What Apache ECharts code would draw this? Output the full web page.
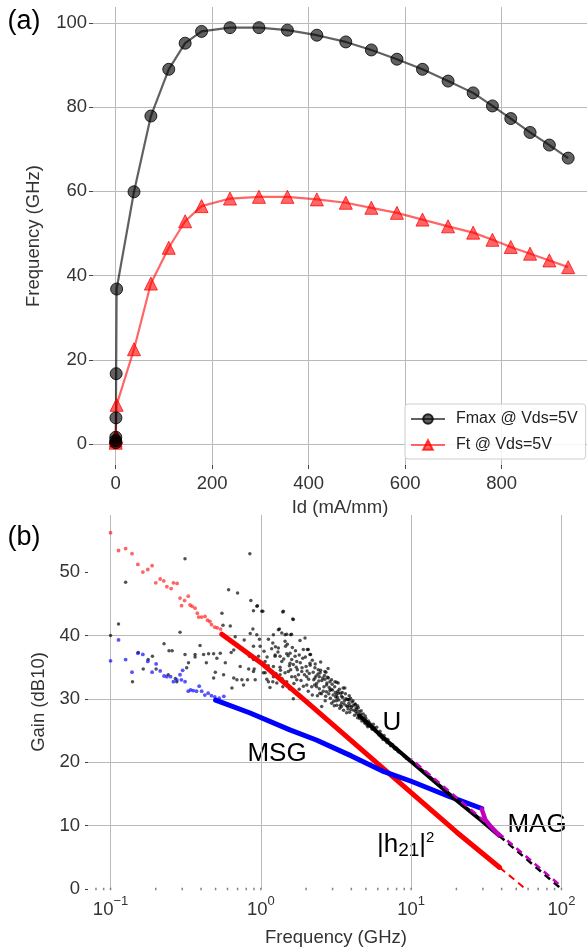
<!DOCTYPE html>
<html><head><meta charset="utf-8">
<script src="https://cdn.jsdelivr.net/npm/echarts@6/dist/echarts.min.js"></script>
<style>html,body{margin:0;padding:0;background:#fff}#c{width:587px;height:951px}</style>
</head><body><div id="c"></div>
<script>
// ---------- Panel (a) ----------
const idValues   = [0, 0.05, 0.2, 0.5, 1, 2, 38, 73, 110, 144, 178, 237, 297, 356, 417, 477, 530, 583, 636, 689, 741, 781, 819, 859, 899, 938];
const fmaxValues = [0.3, 0.8, 1.6, 6.2, 16.7, 36.8, 59.9, 77.9, 89.0, 95.2, 98.0, 98.9, 98.9, 98.3, 97.1, 95.5, 93.6, 91.4, 89.0, 86.2, 83.4, 80.3, 77.3, 74.0, 71.0, 67.9];
const ftValues   = [0.3, 0.8, 1.5, 1.7, 1.8, 9.3, 22.5, 38.1, 46.6, 52.9, 56.5, 58.3, 58.7, 58.7, 58.1, 57.3, 56.1, 54.9, 53.3, 51.7, 50.2, 48.5, 46.8, 45.2, 43.6, 42.0];
const idTicks = [0, 200, 400, 600, 800];
const freqTicks = [0, 20, 40, 60, 80, 100];

// ---------- Panel (b) ----------
const h21Scatter = [[0.1,56.2],[0.113,53.4],[0.126,53.7],[0.139,52.9],[0.152,51.2],[0.164,50.0],[0.177,50.4],[0.189,51.0],[0.2,48.3],[0.214,48.9],[0.226,48.6],[0.237,47.7],[0.253,47.4],[0.262,48.3],[0.277,48.2],[0.29,45.9],[0.311,45.5],[0.329,46.2],[0.297,44.7],[0.338,44.8],[0.349,44.6],[0.365,44.3],[0.378,43.5],[0.386,42.9],[0.404,42.9],[0.425,43.0],[0.442,42.4],[0.458,42.2],[0.47,41.7],[0.494,41.3],[0.513,41.2],[0.54,41.0]];
const h21Line = [[0.55,40.2],[1,35.7],[2,29.6],[5,21.4],[10,15.2],[20,9.0],[38.8,3.4]];
const h21Dash = [[38.8,3.4],[57.7,0]];
const msgScatter = [[0.1,36.0],[0.113,39.3],[0.126,36.2],[0.139,34.2],[0.152,37.2],[0.164,37.0],[0.177,35.9],[0.189,34.2],[0.201,35.5],[0.214,34.4],[0.227,33.6],[0.237,33.5],[0.251,33.5],[0.262,32.7],[0.276,33.0],[0.29,33.8],[0.302,34.5],[0.296,33.0],[0.313,32.7],[0.329,31.2],[0.341,31.4],[0.355,31.3],[0.373,31.2],[0.389,32.0],[0.404,31.2],[0.424,30.6],[0.446,30.9],[0.469,30.5],[0.494,30.3],[0.528,30.1],[0.567,30.4]];
const msgLine = [[0.5,29.8],[0.84,27.8],[1.56,25.1],[2.34,23.5],[4.0,21.0],[6.6,18.5],[10,17.0],[17.9,14.6],[29.5,12.7]];
const uScatter = [[0.1,40.0],[0.113,41.8],[0.126,48.4],[0.14,32.7],[0.153,37.3],[0.165,34.7],[0.178,36.2],[0.19,36.7],[0.201,34.7],[0.227,38.7],[0.242,33.8],[0.245,37.6],[0.257,37.6],[0.276,32.7],[0.27,33.2],[0.29,40.5],[0.313,52.1],[0.321,34.9],[0.33,35.7],[0.365,36.6],[0.394,38.4],[0.416,37.0],[0.434,35.7],[0.449,37.1],[0.485,37.1],[0.498,34.2],[0.51,36.4],[0.551,43.5],[0.61,47.2],[0.7,46.7],[0.626,41.5],[0.675,39.8],[0.58,35.7],[0.565,33.8],[0.642,31.7],[0.693,33.0],[0.729,35.1],[0.775,39.3],[0.845,52.9],[0.858,45.5],[0.941,44.6],[1.015,43.8],[0.885,41.0],[0.979,39.4],[0.84,36.7],[0.903,34.7],[0.815,33.0],[0.767,32.2],[1.068,34.1],[1.096,33.1],[1.201,32.7],[1.399,43.7],[1.63,42.6],[1.329,41.0],[1.449,40.1],[1.581,40.1],[1.244,36.9],[1.342,36.7],[1.487,37.1],[1.605,36.2],[1.689,36.7],[1.212,35.1],[1.342,35.0],[1.548,35.2],[1.644,35.4],[1.212,33.5],[1.449,34.1],[1.605,33.5],[1.733,33.0],[1.487,32.7],
[0.313,37.0],[0.365,37.0],[0.537,37.2],[0.635,37.3],[0.66,37.7],[0.485,33.3],[0.66,33.3],[0.748,33.0],[0.83,34.7],[0.893,38.3],[0.56,41.6],[0.893,43.9],[0.94,40.1],[0.85,40.3],
[0.949,44.7],[1.031,43.8],[1.412,43.8],[1.123,39.4],[1.212,40.1],[1.308,40.9],[1.378,40.4],[1.487,40.2],[1.201,38.8],[1.449,39.1],[1.822,39.2],[1.967,39.6],[0.989,38.3],[1.308,38.0],[1.564,37.2],[1.917,37.8],[2.068,37.8],[2.122,37.0],[0.893,36.2],[0.964,36.7],[1.068,35.9],[1.244,36.7],[1.378,35.9],[1.564,35.6],[1.733,35.9],[2.122,35.6],[2.41,34.6],[0.893,34.3],[1.04,34.1],[1.183,34.3],[1.342,33.8],[1.524,34.3],[1.689,33.5],[1.872,34.3],[2.02,33.5],[2.29,33.3],[2.67,34.3],[2.81,33.3],[0.917,33.0],[1.123,32.7],[1.277,32.5],[1.644,30.0],[2.02,32.2],[2.35,31.9],[2.74,32.2],[3.11,32.7],[3.27,32.5],[3.62,31.7],[2.068,31.2],[2.47,30.9],[2.88,31.3],[3.19,30.6],[3.44,30.4],[3.81,29.9],[2.54,28.8],[2.96,29.3],[3.44,28.8],[3.9,28.9],[4.33,28.3],[3.72,27.8],[4.56,27.2],
[1.645,42.5],[1.6,40.2],[2.04,37.8],[2.14,37.0],[2.29,34.9],[2.5,34.5],[2.71,34.2],[2.45,33.5],[2.67,33.1],[2.88,32.7],[3.19,32.6],[3.53,31.7],[3.27,30.9],[3.87,30.5],[4.22,29.1],
[1.9,36.4],[2.0,35.1],[2.1,34.0],[2.2,36.1],[2.25,33.0],[2.3,35.5],[2.35,32.4],[2.4,33.9],[2.45,31.6],[2.5,35.8],[2.55,32.9],[2.6,31.2],[2.65,33.7],[2.7,30.4],[2.75,32.5],[2.8,34.8],[2.85,31.8],[2.9,30.1],[2.95,33.0],[3.0,31.4],[3.05,29.6],[3.1,31.9],[3.15,30.3],[3.2,29.0],[3.25,31.2],[3.3,29.8],[3.35,28.5],[3.4,30.9],[3.45,29.4],[3.5,30.2],[3.55,28.2],[3.6,29.7],[3.65,30.8],[3.7,28.9],[3.75,29.9],[3.8,28.4],[3.85,29.3],[3.9,27.9],[3.95,30.1],[4.0,28.7],[4.05,29.5],[4.15,28.2],[4.25,29.2],[4.35,27.7],[4.45,28.6],[4.55,26.9],[4.65,28.1],[4.75,27.0],[4.85,26.6],[4.95,27.3],[5.05,26.4],[5.15,25.6],[5.3,26.2],[5.45,25.6],[5.7,25.4],[6.0,24.6],[6.3,24.4],[6.5,23.6],[6.9,23.1],[7.3,22.6],[7.8,22.1],[8.2,21.7],
[1.25,38.2],[1.35,34.5],[1.5,38.6],[1.7,37.6],[1.75,34.6],[1.8,36.9],[1.85,32.9],[1.95,33.8],[1.1,36.6],[1.15,31.8],[1.4,31.9],[1.55,31.6],[1.8,31.5],[2.2,30.6],
[1.05,37.5],[1.12,35.2],[1.18,37.9],[1.26,34.0],[1.3,37.4],[1.38,33.2],[1.42,36.3],[1.46,38.3],[1.52,36.8],[1.58,34.6],[1.62,38.1],[1.66,32.4],[1.72,35.0],[1.78,33.8],[1.83,35.7],[1.88,34.9],[1.92,32.0],[1.98,36.6],[2.03,34.4],[2.08,33.1],[2.13,35.3],[2.18,31.9],[2.23,34.2],[2.28,32.2],[2.33,33.6],[2.38,30.5],[2.43,32.8],[2.48,34.1],[2.53,30.8],[2.58,33.3],[2.63,31.9],[2.68,29.7],[2.73,31.1],[2.78,33.4],[2.83,30.8],[2.93,31.5],[2.98,32.3],[3.03,30.6],[3.08,28.9],[3.13,31.0],[3.18,29.7],[3.23,30.2],[3.33,31.5],[3.38,29.0],[3.48,31.0],[3.58,29.2],[3.68,30.0],[3.78,28.8],[3.88,29.8],[3.98,28.3],[4.1,29.7],[4.28,28.0],[4.4,28.9],[4.62,27.6],[4.8,26.9],[5.0,26.1],[5.25,25.9],[5.6,25.5],[5.9,24.8],[6.3,24.0],[6.7,23.8],[7.1,23.0],
[4.1,28.9],[4.2,27.4],[4.3,28.6],[4.4,27.0],[4.5,28.0],[4.6,27.3],[4.7,26.5],[4.8,27.6],[4.9,26.2],[5.0,26.9],[5.1,25.8],[5.2,26.5],[5.4,25.9],[5.5,25.2],[5.6,26.0],[5.8,24.9],[5.9,25.5],[6.1,24.3],[6.2,24.9],[6.4,23.9],[6.6,24.2],[6.8,23.4],[7.0,23.6],[7.2,22.9],[7.5,22.8],[7.7,22.3],[8.0,22.2],[8.3,21.6],[8.6,21.4],[9.0,20.9],[9.3,20.6],[9.7,20.3]];
const uLine = [[4.5,27.4],[6.5,23.9],[10,20.1],[20,14.0],[30,10.6],[38.5,8.4]];
const uDash = [[38.5,8.4],[100,0.0]];
const magLine = [[29.5,12.6],[31.2,10.9],[34,9.8],[38.5,8.5]];
const magDash = [[10,20.5],[100,0.4]];
const gainTicks = [0, 10, 20, 30, 40, 50];
const freqDecades = [0.1, 1, 10, 100];
const minorFreqTicks = [0.08,0.09,0.1,0.2,0.3,0.4,0.5,0.6,0.7,0.8,0.9,1,2,3,4,5,6,7,8,9,10,20,30,40,50,60,70,80,90,100];

const FONT = 'Liberation Sans, Arial, sans-serif';
const TXT = '#333';
const GRIDC = '#bababa';
const chart = echarts.init(document.getElementById('c'), null, {renderer: 'canvas'});

const isIn = (arr, v) => arr.some(t => Math.abs(t - v) < 1e-9);
const supMap = e => (e < 0 ? '\u2212' + (-e) : String(e));

const option = {
  backgroundColor: '#fff',
  animation: false,
  textStyle: {fontFamily: FONT},
  grid: [
    {left: 93, top: 7, width: 494, height: 458},
    {left: 88, top: 515, width: 497, height: 374}
  ],
  xAxis: [
    {
      type: 'value', gridIndex: 0, min: -47, max: 977, splitNumber: 5,
      axisLine: {show: false, onZero: false},
      axisTick: {show: true, length: 4, customValues: idTicks, lineStyle: {color: '#444'}},
      axisLabel: {customValues: idTicks, color: TXT, fontSize: 18.5, fontFamily: FONT, margin: 9,
        formatter: v => isIn(idTicks, v) ? String(v) : ''},
      splitLine: {show: true, showMinLine: true, showMaxLine: true, lineStyle: {color: GRIDC, width: 1}},
      name: 'Id (mA/mm)', nameLocation: 'middle', nameGap: 33,
      nameTextStyle: {color: TXT, fontSize: 18.5, fontFamily: FONT}
    },
    {
      type: 'log', logBase: 10, gridIndex: 1, min: 0.0708, max: 141.25,
      axisLine: {show: false, onZero: false},
      axisTick: {show: false},
      axisLabel: {
        color: TXT, margin: 6,
        formatter: v => {
          const l = Math.log10(v); const e = Math.round(l);
          if (Math.abs(l - e) > 1e-6 || !isIn(freqDecades, v)) return '';
          return '{b|10}{s|' + supMap(e) + '}';
        },
        rich: {
          b: {fontSize: 18.5, fontFamily: FONT, color: TXT, lineHeight: 30, verticalAlign: 'middle'},
          s: {fontSize: 13, fontFamily: FONT, color: TXT, lineHeight: 13, verticalAlign: 'top'}
        }
      },
      splitLine: {show: true, showMinLine: false, showMaxLine: false, lineStyle: {color: GRIDC, width: 1}},
      name: 'Frequency (GHz)', nameLocation: 'middle', nameGap: 39,
      nameTextStyle: {color: TXT, fontSize: 18.5, fontFamily: FONT}
    }
  ],
  yAxis: [
    {
      type: 'value', gridIndex: 0, min: -5, max: 103.8, splitNumber: 5,
      axisLine: {show: false, onZero: false},
      axisTick: {show: true, length: 4, customValues: freqTicks, lineStyle: {color: '#444'}},
      axisLabel: {customValues: freqTicks, color: TXT, fontSize: 18.5, fontFamily: FONT, margin: 6,
        formatter: v => isIn(freqTicks, v) ? String(v) : ''},
      splitLine: {show: true, showMinLine: true, showMaxLine: true, lineStyle: {color: GRIDC, width: 1}},
      name: 'Frequency (GHz)', nameLocation: 'middle', nameGap: 50,
      nameTextStyle: {color: TXT, fontSize: 18.5, fontFamily: FONT}
    },
    {
      type: 'value', gridIndex: 1, min: 0, max: 59, interval: 10,
      axisLine: {show: false, onZero: false},
      axisTick: {show: true, length: 3, customValues: gainTicks, lineStyle: {color: '#444'}},
      axisLabel: {customValues: gainTicks, color: TXT, fontSize: 18.5, fontFamily: FONT, margin: 8,
        formatter: v => isIn(gainTicks, v) ? String(v) : ''},
      splitLine: {show: true, showMinLine: false, showMaxLine: false, lineStyle: {color: GRIDC, width: 1}},
      name: 'Gain (dB10)', nameLocation: 'middle', nameGap: 39,
      nameTextStyle: {color: TXT, fontSize: 18.5, fontFamily: FONT}
    }
  ],
  legend: {
    data: ['Fmax @ Vds=5V', 'Ft @ Vds=5V'],
    orient: 'vertical', left: 405, top: 404,
    padding: [7, 8, 6, 5], itemWidth: 34, itemHeight: 12, itemGap: 10,
    borderColor: '#cfcfcf', borderWidth: 1, borderRadius: 3,
    backgroundColor: 'rgba(255,255,255,0.85)',
    textStyle: {fontSize: 16, color: '#222', fontFamily: FONT, padding: [0, 0, 0, 6]}
  },
  series: [
    {
      name: 'Ft @ Vds=5V', type: 'line', xAxisIndex: 0, yAxisIndex: 0,
      data: idValues.map((x, i) => [x, ftValues[i]]),
      symbol: 'triangle', symbolSize: 13, showAllSymbol: true,
      lineStyle: {color: 'rgba(255,0,0,0.6)', width: 2.2},
      itemStyle: {color: 'rgba(255,0,0,0.6)', borderColor: 'rgba(255,0,0,0.75)', borderWidth: 1}
    },
    {
      name: 'Fmax @ Vds=5V', type: 'line', xAxisIndex: 0, yAxisIndex: 0,
      data: idValues.map((x, i) => [x, fmaxValues[i]]),
      symbol: 'circle', symbolSize: 12, showAllSymbol: true,
      lineStyle: {color: 'rgba(0,0,0,0.62)', width: 2.2},
      itemStyle: {color: 'rgba(0,0,0,0.62)', borderColor: 'rgba(0,0,0,0.8)', borderWidth: 1}
    },
    {
      name: 'minorTicks', type: 'scatter', xAxisIndex: 1, yAxisIndex: 1, clip: false,
      data: minorFreqTicks.map(f => [f, 0]), symbol: 'rect', symbolSize: [1.5, 2.5],
      itemStyle: {color: '#666'}, silent: true
    },
    {
      name: 'U', type: 'scatter', xAxisIndex: 1, yAxisIndex: 1,
      data: uScatter, symbolSize: 3.5, itemStyle: {color: 'rgba(0,0,0,0.85)'}
    },
    {
      name: 'h21pts', type: 'scatter', xAxisIndex: 1, yAxisIndex: 1,
      data: h21Scatter, symbolSize: 3.8, itemStyle: {color: 'rgba(255,30,30,0.85)'}
    },
    {
      name: 'h21', type: 'line', xAxisIndex: 1, yAxisIndex: 1, data: h21Line,
      showSymbol: false, lineStyle: {color: '#ff0000', width: 5, cap: 'round'}
    },
    {
      name: 'h21dash', type: 'line', xAxisIndex: 1, yAxisIndex: 1, data: h21Dash,
      showSymbol: false, lineStyle: {color: '#ff0000', width: 2, type: [7, 5]}
    },
    {
      name: 'msgpts', type: 'scatter', xAxisIndex: 1, yAxisIndex: 1,
      data: msgScatter, symbolSize: 3.8, itemStyle: {color: 'rgba(20,20,255,0.9)'}
    },
    {
      name: 'MSG', type: 'line', xAxisIndex: 1, yAxisIndex: 1, data: msgLine,
      showSymbol: false, lineStyle: {color: '#0000ff', width: 5, cap: 'round'}
    },
    {
      name: 'Uline', type: 'line', xAxisIndex: 1, yAxisIndex: 1, data: uLine,
      showSymbol: false, lineStyle: {color: '#000', width: 4, cap: 'round'}
    },
    {
      name: 'Udash', type: 'line', xAxisIndex: 1, yAxisIndex: 1, data: uDash,
      showSymbol: false, lineStyle: {color: '#000', width: 2.5, type: [7, 5]}
    },
    {
      name: 'MAG', type: 'line', xAxisIndex: 1, yAxisIndex: 1, data: magLine,
      showSymbol: false, lineStyle: {color: '#bf00bf', width: 4.5, cap: 'round'}
    },
    {
      name: 'MAGdash', type: 'line', xAxisIndex: 1, yAxisIndex: 1, data: magDash,
      showSymbol: false, lineStyle: {color: '#bf00bf', width: 2.5, type: [7, 5], dashOffset: 6}
    }
  ],
  graphic: [
    {type: 'text', x: 24, y: 22, style: {text: '(a)', font: '27px ' + FONT, fill: '#000', align: 'center', verticalAlign: 'middle'}},
    {type: 'text', x: 24, y: 538, style: {text: '(b)', font: '27px ' + FONT, fill: '#000', align: 'center', verticalAlign: 'middle'}},
    {type: 'text', x: 392, y: 723, style: {text: 'U', font: '26px ' + FONT, fill: '#000', align: 'center', verticalAlign: 'middle'}},
    {type: 'text', x: 277, y: 754, style: {text: 'MSG', font: '26px ' + FONT, fill: '#000', align: 'center', verticalAlign: 'middle'}},
    {type: 'text', x: 537, y: 825, style: {text: 'MAG', font: '26px ' + FONT, fill: '#000', align: 'center', verticalAlign: 'middle'}},
    {type: 'text', x: 377, y: 845, style: {
      text: '{a||h}{b|21}{a||}{c|2}', align: 'left', verticalAlign: 'middle',
      rich: {
        a: {fontSize: 26, fontFamily: FONT, fill: '#000', color: '#000', lineHeight: 30, verticalAlign: 'middle'},
        b: {fontSize: 19, fontFamily: FONT, fill: '#000', color: '#000', lineHeight: 19, verticalAlign: 'bottom'},
        c: {fontSize: 15, fontFamily: FONT, fill: '#000', color: '#000', lineHeight: 16, verticalAlign: 'top'}
      }
    }}
  ]
};
chart.setOption(option);
</script>
</body></html>
